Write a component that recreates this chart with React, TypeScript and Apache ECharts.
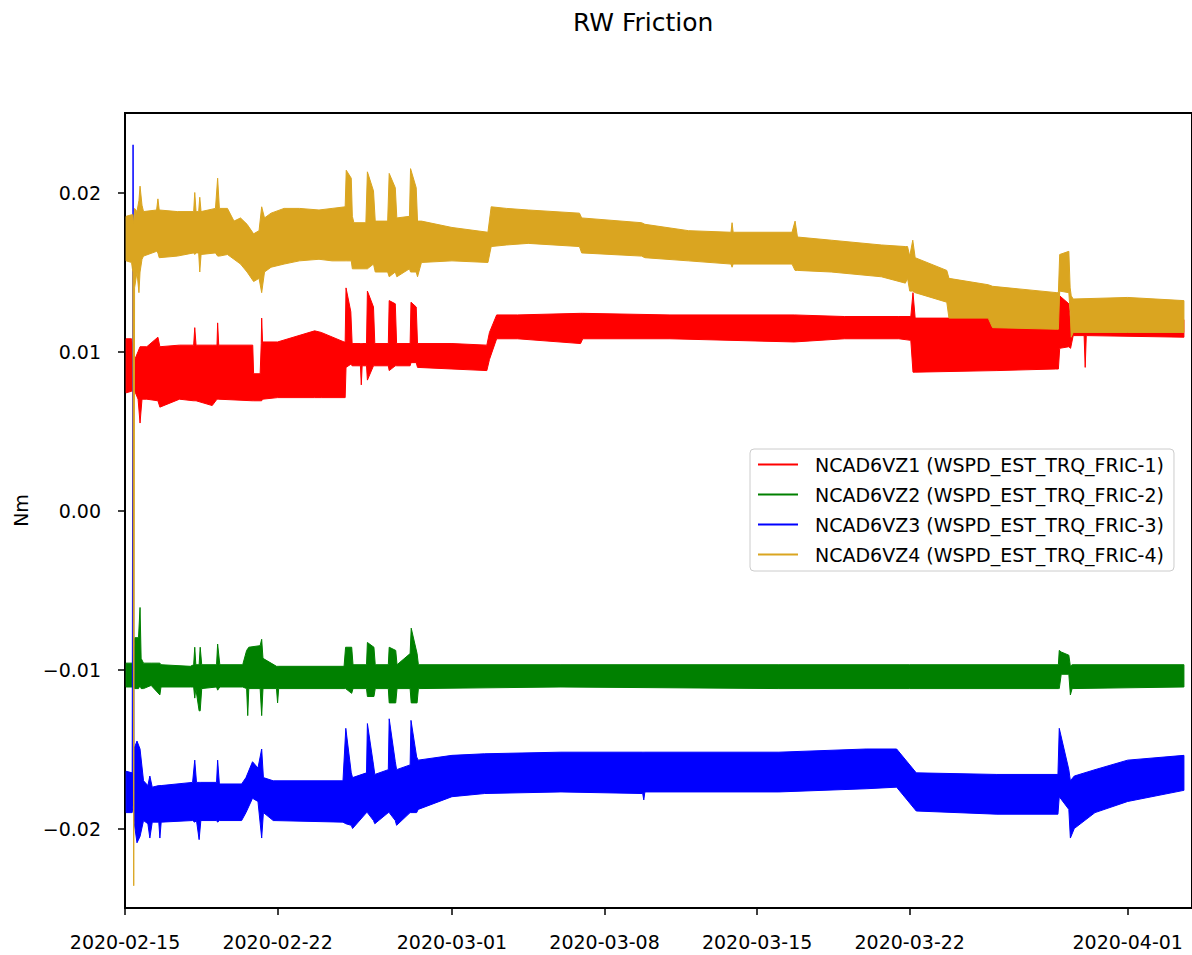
import { useEffect, useRef } from "react";
import * as echarts from "echarts";

const TITLE = "RW Friction";
const Y_NAME = "Nm";
const START_DATE = "2020-02-15";
const X_MAX_DAYS = 48.95;
const X_TICK_DATES = ["2020-02-15", "2020-02-22", "2020-03-01", "2020-03-08", "2020-03-15", "2020-03-22", "2020-04-01"];
const Y_TICKS = [-0.02, -0.01, 0, 0.01, 0.02];
const SERIES_NAMES = [
  "NCAD6VZ1 (WSPD_EST_TRQ_FRIC-1)",
  "NCAD6VZ2 (WSPD_EST_TRQ_FRIC-2)",
  "NCAD6VZ3 (WSPD_EST_TRQ_FRIC-3)",
  "NCAD6VZ4 (WSPD_EST_TRQ_FRIC-4)",
];
const SERIES_COLORS = ["#ff0000", "#008000", "#0000ff", "#daa520"];

// rows: [days since START_DATE, band low, band high] (Nm)
const FRIC1: number[][] = [
  [0.05, 0.0074, 0.0108], [0.3, 0.0075, 0.0108], [0.45, 0.0075, 0.0095], [0.6, 0.007, 0.01],
  [0.69, 0.0055, 0.0103], [0.78, 0.007, 0.0103], [1.0, 0.007, 0.0103], [1.51, 0.0069, 0.0109],
  [1.6, 0.0065, 0.0103], [2.5, 0.007, 0.0104], [3.15, 0.0069, 0.0104], [3.2, 0.0069, 0.0115],
  [3.26, 0.0069, 0.0104], [4.0, 0.0066, 0.0104], [4.22, 0.007, 0.0104], [4.25, 0.007, 0.0118],
  [4.3, 0.007, 0.0104], [5.86, 0.0069, 0.0104], [5.9, 0.0069, 0.0086], [6.2, 0.0069, 0.0086],
  [6.25, 0.0069, 0.0105], [6.27, 0.0069, 0.0121], [6.31, 0.007, 0.0106], [7.0, 0.0071, 0.0106],
  [8.7, 0.0071, 0.0113], [9.0, 0.0071, 0.0112], [10.05, 0.0071, 0.0106], [10.1, 0.0071, 0.0106],
  [10.14, 0.009, 0.014], [10.36, 0.0092, 0.0125], [10.42, 0.0091, 0.0105], [10.8, 0.0091, 0.0105],
  [10.84, 0.0079, 0.0105], [10.88, 0.0091, 0.0105], [11.08, 0.0091, 0.0105], [11.12, 0.0082, 0.0138],
  [11.4, 0.0091, 0.0128], [11.46, 0.0091, 0.0105], [12.08, 0.0091, 0.0105], [12.12, 0.0088, 0.0132],
  [12.4, 0.0091, 0.013], [12.46, 0.0091, 0.0105], [13.08, 0.0091, 0.0105], [13.12, 0.0093, 0.0131],
  [13.36, 0.0093, 0.0128], [13.42, 0.009, 0.0105], [15.0, 0.0089, 0.0105], [16.6, 0.0088, 0.0104],
  [16.72, 0.0095, 0.0112], [17.05, 0.0108, 0.0123], [18.0, 0.0108, 0.0123], [20.9, 0.0105, 0.0124],
  [21.0, 0.0108, 0.0124], [25.0, 0.0108, 0.0123], [30.7, 0.0106, 0.0123], [33.0, 0.0108, 0.0122],
  [35.5, 0.0108, 0.0122], [36.05, 0.0107, 0.0122], [36.15, 0.0087, 0.0137], [36.25, 0.0087, 0.0121],
  [40.0, 0.0088, 0.0121], [42.7, 0.0089, 0.0121], [42.82, 0.0089, 0.0121], [42.88, 0.0102, 0.0135],
  [43.3, 0.0103, 0.013], [43.38, 0.0102, 0.0118], [43.5, 0.011, 0.012], [44.0, 0.011, 0.012],
  [44.05, 0.009, 0.012], [44.1, 0.011, 0.012], [48.58, 0.0109, 0.012],
];

const FRIC2: number[][] = [
  [0.05, -0.0111, -0.0096], [0.35, -0.0111, -0.0096], [0.45, -0.0112, -0.008], [0.62, -0.0112, -0.008],
  [0.69, -0.011, -0.0061], [0.74, -0.0112, -0.0093], [0.85, -0.0112, -0.0096], [1.2, -0.011, -0.0096],
  [1.6, -0.0116, -0.0096], [1.65, -0.0111, -0.0097], [3.0, -0.0111, -0.0098], [3.15, -0.0111, -0.0097],
  [3.2, -0.0118, -0.0086], [3.25, -0.0112, -0.0097], [3.4, -0.0126, -0.0097], [3.45, -0.0126, -0.0086],
  [3.52, -0.0112, -0.0097], [4.2, -0.0111, -0.0097], [4.25, -0.0113, -0.0084], [4.35, -0.0111, -0.0097],
  [5.4, -0.0111, -0.0097], [5.58, -0.0112, -0.0088], [5.63, -0.0129, -0.0087], [5.68, -0.0112, -0.0086],
  [6.2, -0.0112, -0.0085], [6.27, -0.0129, -0.0081], [6.33, -0.0112, -0.0093], [6.95, -0.0112, -0.0098],
  [7.0, -0.0121, -0.0098], [7.05, -0.0112, -0.0098], [10.05, -0.0112, -0.0098], [10.12, -0.0112, -0.0086],
  [10.4, -0.0115, -0.0086], [10.46, -0.0112, -0.0097], [11.08, -0.0112, -0.0097], [11.12, -0.0117, -0.0083],
  [11.42, -0.0117, -0.0086], [11.48, -0.0112, -0.0097], [12.08, -0.0112, -0.0097], [12.12, -0.0121, -0.0086],
  [12.42, -0.0121, -0.0088], [12.48, -0.0112, -0.0097], [13.08, -0.0112, -0.009], [13.13, -0.0121, -0.0074],
  [13.4, -0.0121, -0.009], [13.46, -0.0112, -0.0097], [20.0, -0.0111, -0.0097], [30.0, -0.0112, -0.0097],
  [36.0, -0.0112, -0.0097], [42.82, -0.0112, -0.0097], [42.86, -0.0112, -0.0088], [42.95, -0.0103, -0.0089],
  [43.3, -0.0103, -0.0091], [43.37, -0.0116, -0.0098], [43.45, -0.0112, -0.0097], [48.58, -0.0111, -0.0097],
];

const FRIC3: number[][] = [
  [0.05, -0.019, -0.0164], [0.33, -0.019, -0.0165], [0.37, -0.0185, 0.023], [0.41, -0.0195, -0.015],
  [0.55, -0.0209, -0.0145], [0.69, -0.0205, -0.015], [0.85, -0.0195, -0.017], [1.05, -0.0197, -0.0173],
  [1.14, -0.0206, -0.0167], [1.25, -0.0196, -0.0174], [1.55, -0.0196, -0.0173], [1.6, -0.0206, -0.0173],
  [1.66, -0.0196, -0.0173], [3.1, -0.0195, -0.0171], [3.2, -0.0196, -0.0157], [3.28, -0.0195, -0.0171],
  [3.4, -0.0207, -0.0171], [3.48, -0.0195, -0.0171], [4.2, -0.0195, -0.0171], [4.25, -0.0196, -0.0157],
  [4.33, -0.0195, -0.0172], [5.35, -0.0195, -0.0172], [5.55, -0.019, -0.0168], [5.85, -0.0181, -0.0158],
  [6.1, -0.0183, -0.0162], [6.27, -0.0206, -0.015], [6.35, -0.019, -0.0168], [6.8, -0.0195, -0.017],
  [10.0, -0.0196, -0.017], [10.13, -0.0197, -0.0137], [10.38, -0.0198, -0.0165], [10.44, -0.02, -0.0168],
  [11.08, -0.019, -0.0165], [11.12, -0.019, -0.0134], [11.4, -0.0195, -0.016], [11.46, -0.0197, -0.0166],
  [12.08, -0.019, -0.0163], [12.12, -0.019, -0.0131], [12.4, -0.0195, -0.0158], [12.46, -0.0198, -0.0163],
  [13.08, -0.019, -0.016], [13.12, -0.019, -0.0132], [13.38, -0.019, -0.0155], [13.45, -0.0188, -0.0157],
  [15.0, -0.018, -0.0154], [16.5, -0.0178, -0.0153], [20.0, -0.0177, -0.0152], [23.75, -0.0178, -0.0152],
  [23.8, -0.0182, -0.0152], [23.85, -0.0177, -0.0152], [30.0, -0.0177, -0.0152], [34.0, -0.0175, -0.015],
  [35.4, -0.0174, -0.015], [36.3, -0.0189, -0.0165], [40.0, -0.0191, -0.0166], [42.8, -0.0191, -0.0166],
  [42.86, -0.018, -0.0137], [43.3, -0.0188, -0.0163], [43.37, -0.0206, -0.017], [43.55, -0.02, -0.0167],
  [44.5, -0.019, -0.0163], [46.0, -0.0183, -0.0157], [48.58, -0.0176, -0.0154],
];

const FRIC4: number[][] = [
  [0.05, 0.0157, 0.0185], [0.3, 0.0156, 0.0186], [0.36, 0.015, 0.0186], [0.4, -0.0236, 0.018],
  [0.44, 0.014, 0.019], [0.55, 0.015, 0.0188], [0.64, 0.0137, 0.0195], [0.69, 0.015, 0.0204],
  [0.78, 0.0158, 0.0192], [0.85, 0.016, 0.0188], [1.45, 0.0163, 0.0189], [1.51, 0.0162, 0.0196],
  [1.57, 0.0159, 0.0189], [2.4, 0.016, 0.0188], [3.15, 0.0162, 0.0188], [3.2, 0.0161, 0.02],
  [3.26, 0.0162, 0.0188], [3.38, 0.0162, 0.0188], [3.43, 0.015, 0.0197], [3.49, 0.0161, 0.0188],
  [4.15, 0.0162, 0.019], [4.25, 0.016, 0.0209], [4.33, 0.016, 0.019], [4.7, 0.0161, 0.019],
  [5.0, 0.0158, 0.0182], [5.3, 0.0155, 0.0184], [5.6, 0.015, 0.018], [5.9, 0.0144, 0.0174],
  [6.15, 0.0146, 0.0176], [6.27, 0.0137, 0.0191], [6.4, 0.015, 0.0184], [6.7, 0.0153, 0.0187],
  [7.3, 0.0155, 0.019], [8.0, 0.0157, 0.019], [8.9, 0.0158, 0.0189], [9.5, 0.0157, 0.019],
  [10.1, 0.0157, 0.0191], [10.15, 0.0157, 0.0214], [10.38, 0.0157, 0.0209], [10.43, 0.0152, 0.0185],
  [10.5, 0.0152, 0.0181], [11.05, 0.0152, 0.0181], [11.12, 0.0152, 0.0213], [11.4, 0.0155, 0.0201],
  [11.48, 0.015, 0.0182], [12.05, 0.015, 0.0182], [12.12, 0.0147, 0.0212], [12.4, 0.015, 0.0203],
  [12.47, 0.0147, 0.0184], [13.05, 0.0152, 0.0185], [13.1, 0.015, 0.0215], [13.36, 0.015, 0.0203],
  [13.42, 0.0147, 0.0182], [13.6, 0.0156, 0.0182], [15.0, 0.0157, 0.0178], [16.65, 0.0156, 0.0175],
  [16.8, 0.0166, 0.0191], [17.5, 0.0167, 0.019], [18.5, 0.0168, 0.0189], [20.85, 0.0166, 0.0187],
  [20.95, 0.0162, 0.0184], [23.7, 0.016, 0.0181], [23.85, 0.0159, 0.018], [25.85, 0.0157, 0.0176],
  [27.8, 0.0155, 0.0175], [27.85, 0.0153, 0.0181], [27.9, 0.0155, 0.0175], [30.6, 0.0155, 0.0175],
  [30.74, 0.0151, 0.0182], [30.85, 0.0151, 0.0172], [32.4, 0.015, 0.017], [34.7, 0.0147, 0.0167],
  [35.8, 0.0143, 0.0166], [35.9, 0.0146, 0.0166], [36.0, 0.0138, 0.016], [36.14, 0.0138, 0.017],
  [36.25, 0.0137, 0.0159], [37.7, 0.0131, 0.0151], [37.8, 0.0121, 0.0146], [39.6, 0.0121, 0.0142],
  [39.8, 0.0115, 0.0141], [42.75, 0.0114, 0.0137], [42.82, 0.0114, 0.0137], [42.88, 0.0138, 0.0161],
  [43.3, 0.0137, 0.0163], [43.36, 0.0125, 0.014], [43.41, 0.0109, 0.0135], [43.5, 0.0112, 0.0133],
  [46.0, 0.0112, 0.0134], [48.58, 0.0112, 0.0132],
];

const SERIES_ROWS = [FRIC1, FRIC2, FRIC3, FRIC4];

const DAY_MS = 86400000;
const baseMs = Date.parse(START_DATE + "T00:00:00Z");
const dayOf = (s: string) => (Date.parse(s + "T00:00:00Z") - baseMs) / DAY_MS;
const dateOf = (d: number) => new Date(baseMs + Math.round(d * DAY_MS)).toISOString().slice(0, 10);
const FONT = "DejaVu Sans";

export default function App() {
  const ref = useRef<HTMLDivElement>(null);
  useEffect(() => {
    if (!ref.current) return;
    const chart = echarts.init(ref.current, undefined, { renderer: "svg" });
    const xTicks = X_TICK_DATES.map(dayOf);
    const series = SERIES_ROWS.map((rows, i) => {
      const color = SERIES_COLORS[i];
      return {
        type: "custom",
        name: SERIES_NAMES[i],
        data: [[rows[0][0], rows[0][1]]],
        encode: { x: 0, y: 1 },
        clip: true,
        silent: true,
        z: 2 + i,
        itemStyle: { color },
        renderItem: (_p: any, api: any) => {
          const top = rows.map((r) => api.coord([r[0], r[2]]));
          const bot = rows.slice().reverse().map((r) => api.coord([r[0], r[1]]));
          return {
            type: "polygon",
            shape: { points: top.concat(bot) },
            style: { fill: color, stroke: color, lineWidth: 1 },
          };
        },
      };
    });
    chart.setOption({
      animation: false,
      backgroundColor: "#ffffff",
      textStyle: { fontFamily: FONT },
      title: {
        text: TITLE,
        left: 568,
        top: 5,
        textStyle: { fontFamily: FONT, fontSize: 25, fontWeight: "normal", color: "#000" },
      },
      legend: {
        orient: "vertical",
        left: 750,
        top: 449,
        padding: [6, 10, 7, 8],
        itemGap: 11,
        itemWidth: 52,
        itemHeight: 2,
        icon: "path://M0,0H40V2H0Z M52,0H52.01V2H52Z",
        data: SERIES_NAMES,
        backgroundColor: "rgba(255,255,255,0.85)",
        borderColor: "#cccccc",
        borderWidth: 1,
        borderRadius: 4,
        textStyle: { fontFamily: FONT, fontSize: 19, color: "#000" },
        selectedMode: false,
      },
      grid: {
        left: 125,
        top: 113,
        width: 1070,
        height: 795,
        show: true,
        borderColor: "#000",
        borderWidth: 2,
        backgroundColor: "transparent",
      },
      xAxis: {
        type: "value",
        min: 0,
        max: X_MAX_DAYS,
        splitLine: { show: false },
        axisLine: { show: true, onZero: false, lineStyle: { color: "#000", width: 2 } },
        axisTick: { show: true, length: 7, inside: false, customValues: xTicks, lineStyle: { color: "#000", width: 1.5 } },
        axisLabel: {
          customValues: xTicks,
          margin: 24,
          fontFamily: FONT,
          fontSize: 19,
          color: "#000",
          formatter: (v: number) => dateOf(v),
        },
      },
      yAxis: {
        type: "value",
        min: -0.025,
        max: 0.025,
        name: Y_NAME,
        nameLocation: "middle",
        nameGap: 95,
        nameTextStyle: { fontFamily: FONT, fontSize: 19, color: "#000" },
        splitLine: { show: false },
        axisLine: { show: true, onZero: false, lineStyle: { color: "#000", width: 2 } },
        axisTick: { show: true, length: 7, inside: false, customValues: Y_TICKS, lineStyle: { color: "#000", width: 1.5 } },
        axisLabel: {
          customValues: Y_TICKS,
          margin: 24,
          fontFamily: FONT,
          fontSize: 19,
          color: "#000",
          formatter: (v: number) => (v < -1e-9 ? "\u2212" : "") + Math.abs(v).toFixed(2),
        },
      },
      series,
    });
    return () => chart.dispose();
  }, []);
  return (
    <div
      ref={ref}
      style={{ position: "fixed", left: 0, top: 0, width: 1192, height: 955, background: "#fff" }}
    />
  );
}
